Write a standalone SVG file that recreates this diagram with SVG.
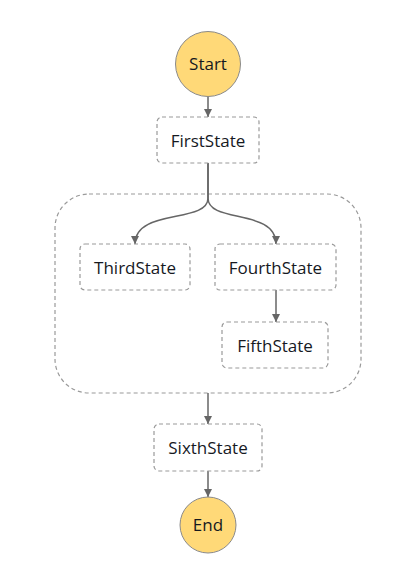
<svg xmlns="http://www.w3.org/2000/svg" width="416" height="576" viewBox="0 0 416 576">
<defs>
<style>
.bg{fill:#ffffff}
.term circle{fill:#ffd978;stroke:#8a8a8a;stroke-width:1}
.state rect{fill:#ffffff;stroke:#9a9a9a;stroke-width:1.2;stroke-dasharray:4 3}
.par rect{fill:none;stroke:#9a9a9a;stroke-width:1.2;stroke-dasharray:4 3}
text{font-family:"Open Sans","Noto Sans","DejaVu Sans",sans-serif;font-size:17px;fill:#16191f;text-anchor:middle}
.edge{fill:none;stroke:#666666;stroke-width:1.5}
</style>
<marker id="arr" markerUnits="userSpaceOnUse" markerWidth="10" markerHeight="10" refX="9" refY="5" orient="auto">
<path d="M1,1 L9,5 L1,9 Z" fill="#666666"/>
</marker>
</defs>
<rect class="bg" x="0" y="0" width="416" height="576"/>
<g id="parallel" class="par"><rect x="55" y="194" width="306" height="199" rx="34" ry="34"/></g>
<g id="connectors">
<path class="edge" d="M208,96 V117" marker-end="url(#arr)"/>
<path class="edge" d="M208,163 V198 C208,224 135,208 135,244" marker-end="url(#arr)"/>
<path class="edge" d="M208,163 V198 C208,224 276,208 276,244" marker-end="url(#arr)"/>
<path class="edge" d="M276,290 V322" marker-end="url(#arr)"/>
<path class="edge" d="M208,393 V424" marker-end="url(#arr)"/>
<path class="edge" d="M208,471 V497" marker-end="url(#arr)"/>
</g>
<g id="start" class="term"><circle cx="208" cy="64" r="32.5"/><text x="208" y="70">Start</text></g>
<g id="firststate" class="state"><rect x="157" y="117" width="102" height="46" rx="5"/><text x="208" y="147">FirstState</text></g>
<g id="thirdstate" class="state"><rect x="80" y="244" width="110" height="46" rx="5"/><text x="135" y="274">ThirdState</text></g>
<g id="fourthstate" class="state"><rect x="215" y="244" width="121" height="46" rx="5"/><text x="275.5" y="274">FourthState</text></g>
<g id="fifthstate" class="state"><rect x="222" y="322" width="106" height="46" rx="5"/><text x="275" y="352">FifthState</text></g>
<g id="sixthstate" class="state"><rect x="154" y="424" width="108" height="47" rx="5"/><text x="208" y="454">SixthState</text></g>
<g id="end" class="term"><circle cx="208" cy="525" r="28"/><text x="208" y="531">End</text></g>
</svg>
